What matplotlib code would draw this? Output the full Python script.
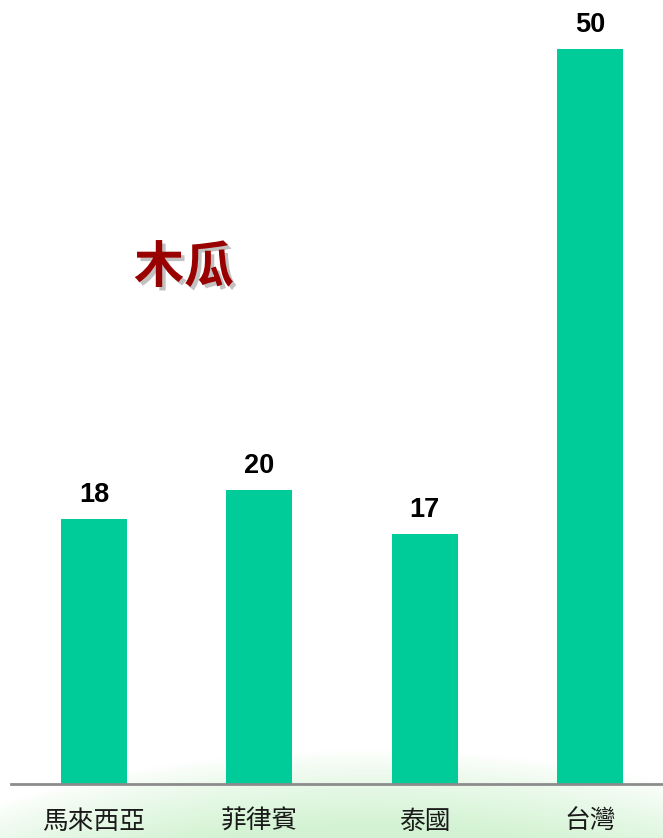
import matplotlib
matplotlib.use("Agg")
import matplotlib.pyplot as plt
import matplotlib.patheffects as pe
import numpy as np

categories = ["馬來西亞", "菲律賓", "泰國", "台灣"]
values = [18, 20, 17, 50]
title = "木瓜"

W, H = 663, 838
fig = plt.figure(figsize=(W / 100, H / 100), dpi=100)
fig.patch.set_facecolor("white")

# background soft green glow at the bottom
bg = fig.add_axes([0, 0, 1, 1], zorder=0)
bg.set_axis_off()
yy, xx = np.mgrid[0:H, 0:W]
d = np.sqrt(((xx - 370) / 600.0) ** 2 + ((yy - 1000) / 250.0) ** 2)
a = np.clip((1.0 - d) / 0.30, 0, 1) ** 0.8
a = a * 0.95
g = np.array([0.82, 0.95, 0.82])
img = np.ones((H, W, 3)) * (1 - a[..., None]) + g * a[..., None]
bg.imshow(img, extent=[0, W, H, 0], aspect="auto")
bg.set_xlim(0, W)
bg.set_ylim(H, 0)

# main axes: px = 94 + 165.3 * x
x0 = (11 - 94) / 165.3
x1 = (663 - 94) / 165.3
ax = fig.add_axes([11 / W, (H - 784) / H, (W - 11) / W, 784 / H], zorder=1)
ax.patch.set_alpha(0)
ax.set_xlim(x0, x1)
ax.set_ylim(0, 784 / 14.7)
x = np.arange(len(categories))
bars = ax.bar(x, values, width=0.4, color="#00CC99", zorder=2)
for xi, v in zip(x, values):
    ax.annotate(str(v), (xi, v), xytext=(0, 17), textcoords="offset pixels",
                ha="center", va="baseline", fontsize=19.5, fontweight="bold",
                family=["Liberation Sans", "DejaVu Sans"], color="black")
for s in ["top", "right", "left"]:
    ax.spines[s].set_visible(False)
ax.spines["bottom"].set_color("#8c8c8c")
ax.spines["bottom"].set_linewidth(2)
ax.set_yticks([])
ax.set_xticks(x)
ax.set_xticklabels(categories, fontsize=18.5, family=["Noto Sans CJK TC", "DejaVu Sans"],
                   color="#1a1a1a", fontweight="light")
ax.tick_params(axis="x", length=0, pad=18)

fig.text(184 / W, (H - 268) / H, title, ha="center", va="center", fontsize=36,
         fontweight="bold", family=["Noto Sans CJK TC", "DejaVu Sans"],
         color="#990000", zorder=3,
         path_effects=[pe.SimplePatchShadow(offset=(2.5, -2.5), shadow_rgbFace="#999999", alpha=0.6),
                       pe.Normal()])

fig.savefig("out.png", dpi=100)
